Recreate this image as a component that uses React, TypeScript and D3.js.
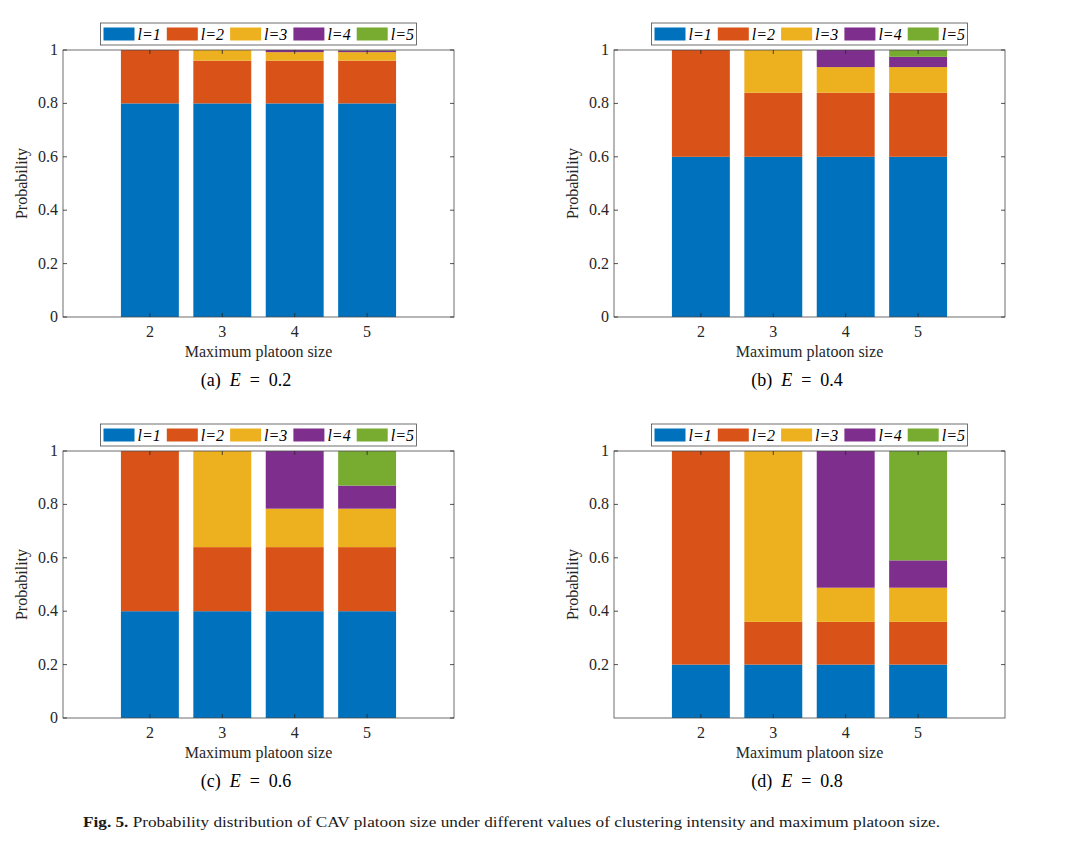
import * as d3 from "d3"

// x categories and stack levels
const maxSizes = [2, 3, 4, 5]
const levels = ["l=1", "l=2", "l=3", "l=4", "l=5"]
const levelColors = ["#0072BD", "#D95319", "#EDB120", "#7E2F8E", "#77AC30"]

// probability of each platoon size l, one row per maximum platoon size
const probE02 = [
  [0.8, 0.2],
  [0.8, 0.16, 0.04],
  [0.8, 0.16, 0.032, 0.008],
  [0.8, 0.16, 0.032, 0.0064, 0.0016],
]
const probE04 = [
  [0.6, 0.4],
  [0.6, 0.24, 0.16],
  [0.6, 0.24, 0.096, 0.064],
  [0.6, 0.24, 0.096, 0.0384, 0.0256],
]
const probE06 = [
  [0.4, 0.6],
  [0.4, 0.24, 0.36],
  [0.4, 0.24, 0.144, 0.216],
  [0.4, 0.24, 0.144, 0.0864, 0.1296],
]
const probE08 = [
  [0.2, 0.8],
  [0.2, 0.16, 0.64],
  [0.2, 0.16, 0.128, 0.512],
  [0.2, 0.16, 0.128, 0.1024, 0.4096],
]

const panelLabels = ["(a)", "(b)", "(c)", "(d)"]
const intensities = ["0.2", "0.4", "0.6", "0.8"]
const yTicksFull = [0, 0.2, 0.4, 0.6, 0.8, 1]
const yTicksNoZero = [0.2, 0.4, 0.6, 0.8, 1]

const FONT = "'Liberation Serif', 'Times New Roman', serif"
const INK = "#262626"

interface PanelProps {
  x0: number
  y0: number
  probs: number[][]
  yTicks: number[]
  label: string
  E: string
}

function Panel({ x0, y0, probs, yTicks, label, E }: PanelProps) {
  const w = 391
  const h = 267

  const x = d3.scaleLinear().domain([0.8, 6.2]).range([0, w])
  const y = d3.scaleLinear().domain([0, 1]).range([h, 0])

  const rows = maxSizes.map((m, i) => {
    const row: Record<string, number> = { size: m }
    levels.forEach((k, j) => (row[k] = probs[i][j] ?? 0))
    return row
  })
  const series = d3.stack<Record<string, number>>().keys(levels)(rows)
  const barW = x(0.8) - x(0)

  // legend geometry
  const legW = 316
  const legX = (w - legW) / 2
  const legY = -27
  const pitch = 63.3

  return (
    <g transform={`translate(${x0},${y0})`} fontFamily={FONT}>
      {series.map((s, j) =>
        s.map((d, i) =>
          d[1] - d[0] > 0 ? (
            <rect
              key={`${j}-${i}`}
              x={x(d.data.size) - barW / 2}
              y={y(d[1])}
              width={barW}
              height={y(d[0]) - y(d[1])}
              fill={levelColors[j]}
            />
          ) : null
        )
      )}

      {/* box */}
      <rect x={0} y={0} width={w} height={h} fill="none" stroke="#4a4a4a" strokeWidth={0.8} />

      {/* x ticks, bottom and top */}
      {maxSizes.map(m => (
        <g key={m}>
          <line x1={x(m)} x2={x(m)} y1={h} y2={h - 4} stroke={INK} strokeWidth={0.8} />
          <line x1={x(m)} x2={x(m)} y1={0} y2={4} stroke={INK} strokeWidth={0.8} />
          <text x={x(m)} y={h + 20} textAnchor="middle" fontSize={16} fill={INK}>
            {m}
          </text>
        </g>
      ))}

      {/* y ticks, left and right */}
      {yTicks.map(t => (
        <g key={t}>
          <line x1={0} x2={4} y1={y(t)} y2={y(t)} stroke={INK} strokeWidth={0.8} />
          <line x1={w} x2={w - 4} y1={y(t)} y2={y(t)} stroke={INK} strokeWidth={0.8} />
          <text x={-5} y={y(t) + 5} textAnchor="end" fontSize={16} fill={INK}>
            {String(t)}
          </text>
        </g>
      ))}

      <text x={w / 2} y={h + 40} textAnchor="middle" fontSize={16} fill={INK}>
        Maximum platoon size
      </text>
      <text
        transform={`translate(${-36},${h / 2}) rotate(-90)`}
        textAnchor="middle"
        fontSize={16}
        fill={INK}
      >
        Probability
      </text>

      {/* legend */}
      <rect x={legX} y={legY} width={legW} height={22} fill="#fff" stroke="#4a4a4a" strokeWidth={0.8} />
      {levels.map((lv, j) => (
        <g key={lv} transform={`translate(${legX + 3 + j * pitch},${legY})`}>
          <rect x={0} y={4.5} width={31} height={13} fill={levelColors[j]} />
          <text x={34} y={16.5} fontSize={16} fontStyle="italic" fill="#000">
            {lv}
          </text>
        </g>
      ))}

      {/* subfigure caption */}
      <text x={183} y={h + 69} textAnchor="middle" fontSize={18} fill="#000" style={{ whiteSpace: "pre" }}>
        {label + "  "}
        <tspan fontStyle="italic">E</tspan>
        {"  =  " + E}
      </text>
    </g>
  )
}

export default function App() {
  const panels = [
    { x0: 63, y0: 50, probs: probE02, yTicks: yTicksFull },
    { x0: 614, y0: 50, probs: probE04, yTicks: yTicksFull },
    { x0: 63, y0: 451, probs: probE06, yTicks: yTicksFull },
    { x0: 614, y0: 451, probs: probE08, yTicks: yTicksNoZero },
  ]
  return (
    <svg
      width={1080}
      height={853}
      style={{ position: "absolute", left: 0, top: 0, background: "#fff" }}
    >
      <rect width={1080} height={853} fill="#fff" />
      {panels.map((p, i) => (
        <Panel key={i} {...p} label={panelLabels[i]} E={intensities[i]} />
      ))}
      <text
        x={83}
        y={827}
        fontFamily={FONT}
        fontSize={15}
        fill="#1a1a1a"
        textLength={857}
        lengthAdjust="spacingAndGlyphs"
      >
        <tspan fontWeight="bold">Fig. 5.</tspan>
        {"  Probability distribution of CAV platoon size under different values of clustering intensity and maximum platoon size."}
      </text>
    </svg>
  )
}
